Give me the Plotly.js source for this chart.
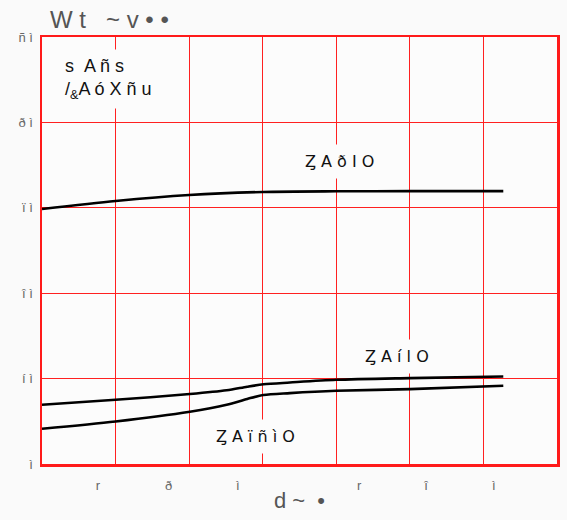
<!DOCTYPE html>
<html>
<head>
<meta charset="utf-8">
<script src="https://cdn.plot.ly/plotly-3.0.1.min.js"></script>
<style>html,body{margin:0;padding:0;background:#fafafa;}#chart{width:567px;height:520px;}</style>
</head>
<body>
<div id="chart"></div>
<script>
// data
const xTickPos = [0.76, 1.72, 2.66, 4.31, 5.22, 6.14];
const xTickLabels = ["r", "ð", "ì", "r", "î", "ì"];
const xGrid = [1, 2, 3, 4, 5, 6];
const yTickVals = [0, 10, 20, 30, 40, 50];
const yTickLabels = ["ì", "í ì", "î ì", "ï ì", "ð ì", "ñ ì"];

const xTop = [0, 1, 2, 3, 4, 5, 6.27];
const yTop = [29.86, 30.8, 31.5, 31.85, 31.93, 31.95, 31.95];

const xMid = [0, 1, 2.01, 2.51, 2.79, 3.01, 3.37, 4, 5, 6.27];
const yMid = [6.94, 7.52, 8.19, 8.63, 9.05, 9.33, 9.54, 9.86, 10.06, 10.25];

const xLow = [0, 1, 2.01, 2.51, 2.79, 3.01, 3.37, 4, 5, 6.27];
const yLow = [4.13, 4.98, 6.12, 6.94, 7.62, 8.08, 8.30, 8.57, 8.77, 9.16];

const curveLabels = ["Ȥ A ð I O", "Ȥ A í l O", "Ȥ A ï ñ ì O"];
const curveLabelX = [4.05, 4.82, 2.9];
const curveLabelY = [35.4, 12.6, 3.2];

const legendText = "s &nbsp;A ñ s<br>/<sub>&amp;</sub>A ó X ñ u";
const titleText = "W t &nbsp; ~ v • •";
const xTitleText = "d ~ &nbsp;•";

const lineStyle = {color: "#000", width: 2.6, shape: "spline", smoothing: 0.8};
const traces = [
  {x: xTop, y: yTop, mode: "lines", line: lineStyle, hoverinfo: "skip"},
  {x: xMid, y: yMid, mode: "lines", line: lineStyle, hoverinfo: "skip"},
  {x: xLow, y: yLow, mode: "lines", line: lineStyle, hoverinfo: "skip"}
];

const plotBg = "#fcfcfc";
const annFont = {family: "DejaVu Sans, sans-serif", size: 16, color: "#111"};
const annotations = curveLabels.map((t, i) => ({
  x: curveLabelX[i], y: curveLabelY[i], xref: "x", yref: "y",
  text: t, showarrow: false, font: annFont,
  bgcolor: plotBg, borderpad: 7, xanchor: "center", yanchor: "middle"
}));
annotations.push({
  x: 0.22, y: 45.1, xref: "x", yref: "y", text: legendText, showarrow: false,
  align: "left", xanchor: "left", yanchor: "middle",
  font: {family: "Liberation Sans, Arial, sans-serif", size: 18, color: "#111"},
  bgcolor: plotBg, borderpad: 6
});

const layout = {
  width: 567, height: 520,
  paper_bgcolor: "#fafafa", plot_bgcolor: plotBg,
  margin: {l: 42, r: 10, t: 37, b: 56},
  showlegend: false,
  title: {text: titleText, x: 50/567, xanchor: "left", xref: "container",
          y: 1 - 20/520, yanchor: "middle",
          font: {family: "Liberation Sans, Arial, sans-serif", size: 24, color: "#555"}},
  xaxis: {
    range: [0, 7], tickmode: "array", tickvals: xTickPos, ticktext: xTickLabels,
    showgrid: false, zeroline: false, ticks: "",
    showline: true, mirror: true, linecolor: "#ff1a1a", linewidth: 2.5,
    tickfont: {family: "Liberation Sans, Arial, sans-serif", size: 13, color: "#666"},
    ticklabelstandoff: 8,
    minor: {tickmode: "array", tickvals: xGrid, showgrid: true, gridcolor: "#ff2020", gridwidth: 1.2, ticks: ""},
    title: {text: xTitleText, standoff: 1,
            font: {family: "Liberation Sans, Arial, sans-serif", size: 22, color: "#555"}},
    fixedrange: true
  },
  yaxis: {
    range: [0, 50], tickmode: "array", tickvals: yTickVals, ticktext: yTickLabels,
    showgrid: true, gridcolor: "#ff2020", gridwidth: 1.2, zeroline: false, ticks: "",
    showline: true, mirror: true, linecolor: "#ff1a1a", linewidth: 2.5,
    tickfont: {family: "Liberation Sans, Arial, sans-serif", size: 13, color: "#666"},
    ticklabelstandoff: 4,
    fixedrange: true
  },
  annotations: annotations
};

Plotly.newPlot("chart", traces, layout, {displayModeBar: false, staticPlot: true});
</script>
</body>
</html>
